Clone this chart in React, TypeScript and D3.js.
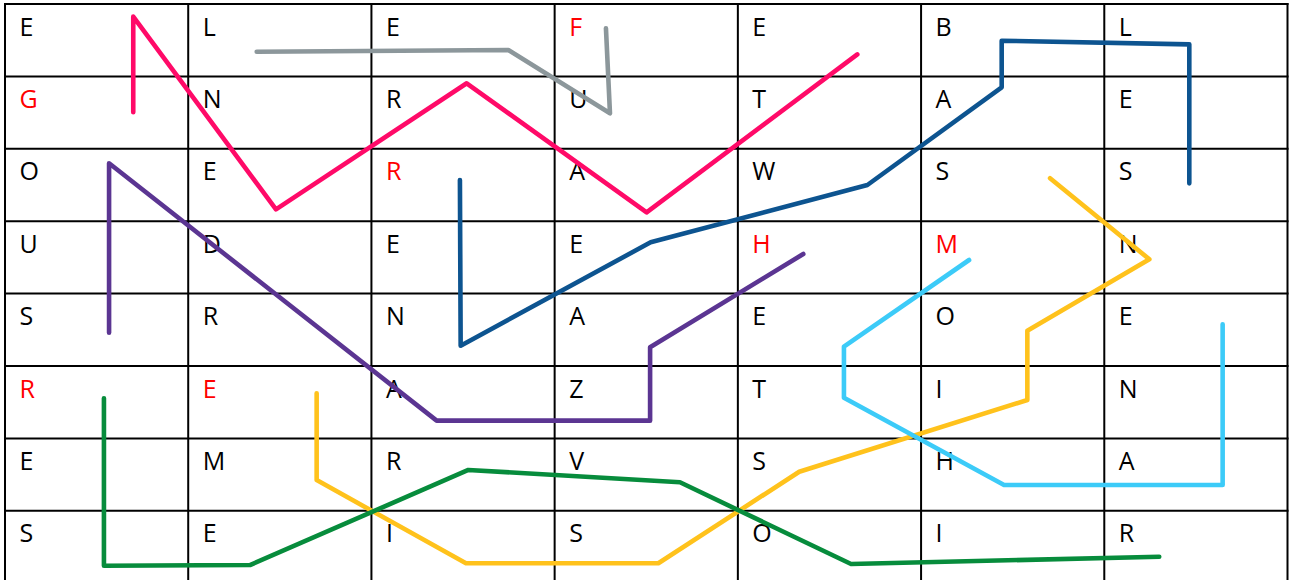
import React from "react";
import * as d3 from "d3";

const WIDTH = 1289;
const HEIGHT = 580;
const COLS = 7;
const ROWS = 8;

const letters: string[][] = [
  ["E", "L", "E", "F", "E", "B", "L"],
  ["G", "N", "R", "U", "T", "A", "E"],
  ["O", "E", "R", "A", "W", "S", "S"],
  ["U", "D", "E", "E", "H", "M", "N"],
  ["S", "R", "N", "A", "E", "O", "E"],
  ["R", "E", "A", "Z", "T", "I", "N"],
  ["E", "M", "R", "V", "S", "H", "A"],
  ["S", "E", "I", "S", "O", "I", "R"],
];

// [row, col] of letters shown in red
const redCells: [number, number][] = [
  [0, 3], [1, 0], [2, 2], [3, 4], [3, 5], [5, 0], [5, 1],
];

type Pt = [number, number];

// strokes in grid units (x = column, y = row)
const pinkPath: Pt[] = [[0.7, 1.496], [0.7, 0.175], [1.479, 2.836], [2.52, 1.095], [3.502, 2.877], [4.652, 0.695]];
const greyPath: Pt[] = [[1.374, 0.659], [2.747, 0.635], [3.302, 1.51], [3.28, 0.336]];
const bluePath: Pt[] = [[2.483, 2.431], [2.487, 4.72], [3.524, 3.291], [4.707, 2.5], [5.44, 1.151], [5.44, 0.507], [6.464, 0.557], [6.464, 2.477]];
const purplePath: Pt[] = [[0.568, 4.54], [0.568, 2.2], [2.356, 5.755], [3.521, 5.755], [3.521, 4.742], [4.357, 3.453]];
const yellowPath: Pt[] = [[1.701, 5.377], [1.701, 6.575], [2.516, 7.725], [3.566, 7.725], [4.335, 6.46], [5.58, 5.47], [5.58, 4.512], [6.246, 3.526], [5.704, 2.407]];
const greenPath: Pt[] = [[0.54, 5.446], [0.54, 7.758], [1.337, 7.749], [2.529, 6.436], [3.684, 6.606], [4.618, 7.735], [6.3, 7.634]];
const lightBluePath: Pt[] = [[5.262, 3.536], [4.579, 4.733], [4.579, 5.438], [5.453, 6.644], [6.646, 6.644], [6.646, 4.424]];

const strokes: { path: Pt[]; color: string }[] = [
  { path: greyPath, color: "#8C979B" },
  { path: pinkPath, color: "#FF0A68" },
  { path: bluePath, color: "#0D5490" },
  { path: purplePath, color: "#5B3592" },
  { path: yellowPath, color: "#FFC21C" },
  { path: greenPath, color: "#078C3C" },
  { path: lightBluePath, color: "#3CCBF8" },
];

export default function App() {
  const x = d3.scaleLinear().domain([0, COLS]).range([5, 1287.5]);
  const y = d3.scaleLinear().domain([0, ROWS]).range([4, 583.2]);
  const line = d3
    .line<Pt>()
    .x((d) => x(d[0]))
    .y((d) => y(d[1]));
  const isRed = (r: number, c: number) => redCells.some(([rr, cc]) => rr === r && cc === c);

  return (
    <svg
      width={WIDTH}
      height={HEIGHT}
      style={{ position: "absolute", left: 0, top: 0, background: "#fff" }}
    >
      <rect x={0} y={0} width={WIDTH} height={HEIGHT} fill="#fff" />
      {d3.range(ROWS + 1).map((r) => (
        <line key={"h" + r} x1={x(0) - 1} x2={x(COLS) + 1} y1={y(r)} y2={y(r)} stroke="#000" strokeWidth={2} />
      ))}
      {d3.range(COLS + 1).map((c) => (
        <line key={"v" + c} x1={x(c)} x2={x(c)} y1={y(0) - 1} y2={y(ROWS)} stroke="#000" strokeWidth={2} />
      ))}
      {letters.map((row, r) =>
        row.map((ch, c) => (
          <text
            key={r + "-" + c}
            x={x(c) + 14.5}
            y={y(r) + 31.5}
            fontFamily="'Open Sans', sans-serif"
            fontSize={25}
            fill={isRed(r, c) ? "#FF0000" : "#000"}
          >
            {ch}
          </text>
        ))
      )}
      {strokes.map((s, i) => (
        <path
          key={i}
          d={line(s.path) || ""}
          fill="none"
          stroke={s.color}
          strokeWidth={4.6}
          strokeLinecap="round"
          strokeLinejoin="round"
        />
      ))}
    </svg>
  );
}
